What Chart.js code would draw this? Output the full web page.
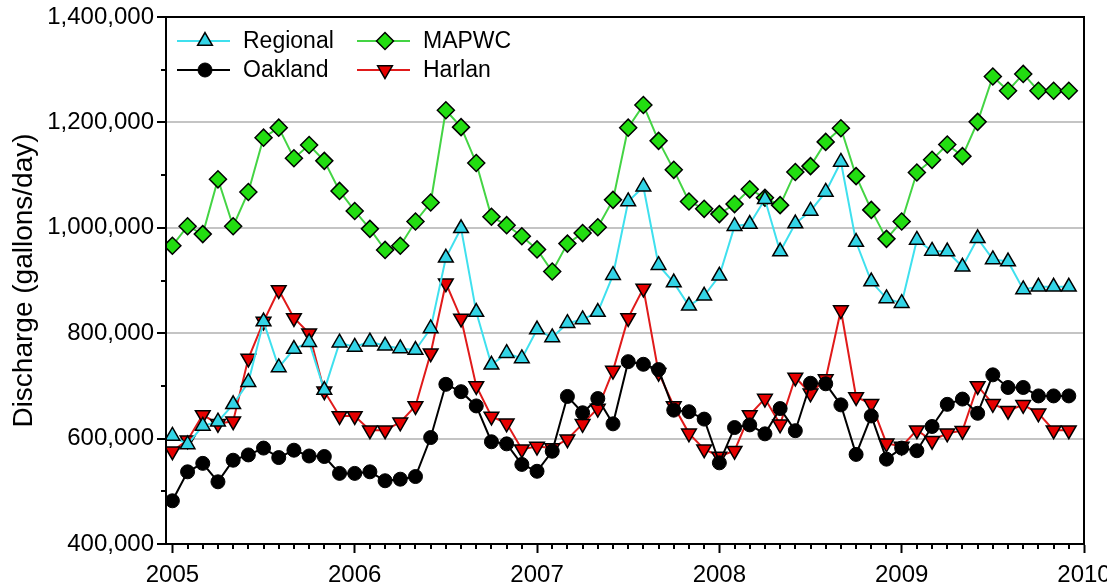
<!DOCTYPE html>
<html>
<head>
<meta charset="utf-8">
<script src="https://cdn.jsdelivr.net/npm/chart.js@4.4.1/dist/chart.umd.min.js"></script>
<style>
  html, body { margin: 0; padding: 0; background: #fff; }
</style>
</head>
<body>
<canvas id="dischargeChart" width="1107" height="588"></canvas>
<script>
// Monthly discharge, Jan 2005 - Dec 2009, in thousands of gallons/day
const startYear = 2005;
const yearTicks = [2005, 2006, 2007, 2008, 2009, 2010];
const valueTicks = [400000, 600000, 800000, 1000000, 1200000, 1400000];

const regional = [605, 589, 624, 632, 665, 707, 822, 735, 770, 783, 692, 782,
                  774, 784, 776, 771, 768, 809, 943, 999, 840, 740, 762, 752,
                  807, 792, 819, 826, 840, 910, 1050, 1078, 929, 896, 852, 871,
                  909, 1003, 1007, 1054, 955, 1008, 1032, 1068, 1125, 973, 898, 866,
                  857, 977, 956, 955, 926, 980, 940, 936, 883, 888, 888, 888];

const mapwc = [966, 1003, 988, 1092, 1003, 1068, 1171, 1190, 1132, 1157, 1127, 1070,
               1032, 998, 958, 966, 1012, 1048, 1223, 1191, 1123, 1021, 1005, 984,
               959, 917, 970, 990, 1001, 1053, 1190, 1233, 1165, 1110, 1050, 1036,
               1026, 1045, 1073, 1057, 1043, 1106, 1117, 1163, 1189, 1098, 1034, 979,
               1012, 1105, 1129, 1158, 1136, 1201, 1287, 1260, 1292, 1260, 1260, 1260];

const oakland = [482, 537, 553, 518, 559, 569, 582, 564, 578, 567, 566, 534,
                 534, 537, 520, 523, 528, 602, 703, 689, 662, 594, 590, 551,
                 538, 576, 680, 649, 676, 628, 746, 741, 731, 654, 651, 637,
                 554, 621, 626, 609, 657, 615, 705, 704, 664, 570, 643, 561,
                 582, 577, 623, 665, 675, 648, 721, 697, 697, 681, 681, 681];

const harlan = [576, 597, 645, 628, 633, 752, 822, 882, 829, 800, 690, 643,
                643, 616, 616, 631, 662, 762, 895, 828, 700, 642, 629, 580,
                585, 582, 599, 628, 657, 729, 829, 885, 725, 662, 610, 580,
                566, 577, 645, 676, 627, 716, 686, 713, 844, 679, 666, 591,
                585, 616, 596, 610, 615, 700, 666, 653, 664, 648, 616, 616];

const FONT = '"Liberation Sans", Arial, sans-serif';

// month index -> decimal year
function toPoints(arr) {
    return arr.map((v, i) => ({ x: startYear + i / 12, y: v * 1000 }));
}

const datasets = [
    {
        label: 'Regional', data: toPoints(regional), order: 0,
        borderColor: '#3fe0ee', borderWidth: 2,
        pointStyle: 'triangle', pointRadius: 8.5, pointRotation: 0,
        pointBackgroundColor: '#33d4e6', pointBorderColor: '#000', pointBorderWidth: 1.5
    },
    {
        label: 'MAPWC', data: toPoints(mapwc), order: 3,
        borderColor: '#44d444', borderWidth: 2,
        pointStyle: 'rectRot', pointRadius: 8.5, pointRotation: 0,
        pointBackgroundColor: '#22dd11', pointBorderColor: '#000', pointBorderWidth: 1.5
    },
    {
        label: 'Oakland', data: toPoints(oakland), order: 1,
        borderColor: '#000', borderWidth: 2,
        pointStyle: 'circle', pointRadius: 7, pointRotation: 0,
        pointBackgroundColor: '#000', pointBorderColor: '#000', pointBorderWidth: 1
    },
    {
        label: 'Harlan', data: toPoints(harlan), order: 2,
        borderColor: '#e01a1a', borderWidth: 2,
        pointStyle: 'triangle', pointRadius: 8.5, pointRotation: 180,
        pointBackgroundColor: '#e60000', pointBorderColor: '#000', pointBorderWidth: 1.5
    }
];

// legend layout inside plot: [dataset index, column, row]
const legendCells = [[0, 0, 0], [1, 1, 0], [2, 0, 1], [3, 1, 1]];

// frame, minor ticks and the 2x2 legend
const extras = {
    id: 'extras',
    afterDraw(chart) {
        const { ctx, chartArea: a, scales: { x, y } } = chart;
        ctx.save();
        ctx.strokeStyle = '#000';
        ctx.lineWidth = 2;
        ctx.beginPath();
        // monthly minor ticks
        for (let yr = startYear; yr < 2010; yr++) {
            for (let m = 1; m < 12; m++) {
                const px = Math.round(x.getPixelForValue(yr + m / 12));
                ctx.moveTo(px, a.bottom);
                ctx.lineTo(px, a.bottom + 5);
            }
        }
        // 100k minor ticks
        for (let i = 0; i < valueTicks.length - 1; i++) {
            const py = Math.round(y.getPixelForValue(valueTicks[i] + 100000));
            ctx.moveTo(a.left, py);
            ctx.lineTo(a.left - 5, py);
        }
        ctx.stroke();
        // frame
        ctx.strokeRect(a.left, a.top, a.right - a.left, a.bottom - a.top);

        // legend
        ctx.font = '23px ' + FONT;
        ctx.textBaseline = 'middle';
        ctx.fillStyle = '#000';
        legendCells.forEach(([di, col, row]) => {
            const ds = chart.data.datasets[di];
            const x0 = a.left + 11 + col * 180;
            const yy = a.top + 24 + row * 29;
            ctx.strokeStyle = ds.borderColor;
            ctx.lineWidth = 2;
            ctx.beginPath();
            ctx.moveTo(x0, yy);
            ctx.lineTo(x0 + 53, yy);
            ctx.stroke();
            ctx.fillStyle = ds.pointBackgroundColor;
            ctx.strokeStyle = ds.pointBorderColor;
            ctx.lineWidth = ds.pointBorderWidth;
            Chart.helpers.drawPoint(ctx, {
                pointStyle: ds.pointStyle, radius: ds.pointRadius,
                rotation: ds.pointRotation, borderWidth: ds.pointBorderWidth
            }, x0 + 28, yy);
            ctx.fillStyle = '#000';
            ctx.fillText(ds.label, x0 + 66, yy + 1);
        });
        ctx.restore();
    }
};

new Chart(document.getElementById('dischargeChart'), {
    type: 'line',
    data: { datasets: datasets },
    plugins: [extras],
    options: {
        responsive: false,
        animation: false,
        devicePixelRatio: 1,
        layout: { padding: { top: 17, right: 23, bottom: 0, left: 0 } },
        plugins: {
            legend: { display: false },
            tooltip: { enabled: false }
        },
        elements: { line: { tension: 0, fill: false } },
        scales: {
            x: {
                type: 'linear',
                min: 2004.965,
                max: 2010,
                afterBuildTicks: (scale) => { scale.ticks = yearTicks.map(v => ({ value: v })); },
                afterFit: (scale) => { scale.height = 44; scale.paddingLeft = 0; scale.paddingRight = 0; },
                grid: { drawOnChartArea: false, tickLength: 9, tickColor: '#000', tickWidth: 2 },
                border: { display: true, color: '#000', width: 2 },
                ticks: {
                    color: '#000', padding: 8,
                    font: { family: FONT, size: 24 },
                    maxRotation: 0,
                    callback: (v) => String(v)
                }
            },
            y: {
                min: 400000,
                max: 1400000,
                afterBuildTicks: (scale) => { scale.ticks = valueTicks.map(v => ({ value: v })); },
                afterFit: (scale) => { scale.width = 166; scale.paddingTop = 0; scale.paddingBottom = 0; },
                grid: {
                    color: '#c4c4c4', lineWidth: 2,
                    tickLength: 9, tickColor: '#000', tickWidth: 2
                },
                border: { display: true, color: '#000', width: 2 },
                ticks: {
                    color: '#000', padding: 3,
                    font: { family: FONT, size: 24 },
                    callback: (v) => v.toLocaleString('en-US')
                },
                title: {
                    display: true,
                    text: 'Discharge (gallons/day)',
                    color: '#000',
                    font: { family: FONT, size: 28 },
                    padding: { top: 7, bottom: 0 }
                }
            }
        }
    }
});
</script>
</body>
</html>
